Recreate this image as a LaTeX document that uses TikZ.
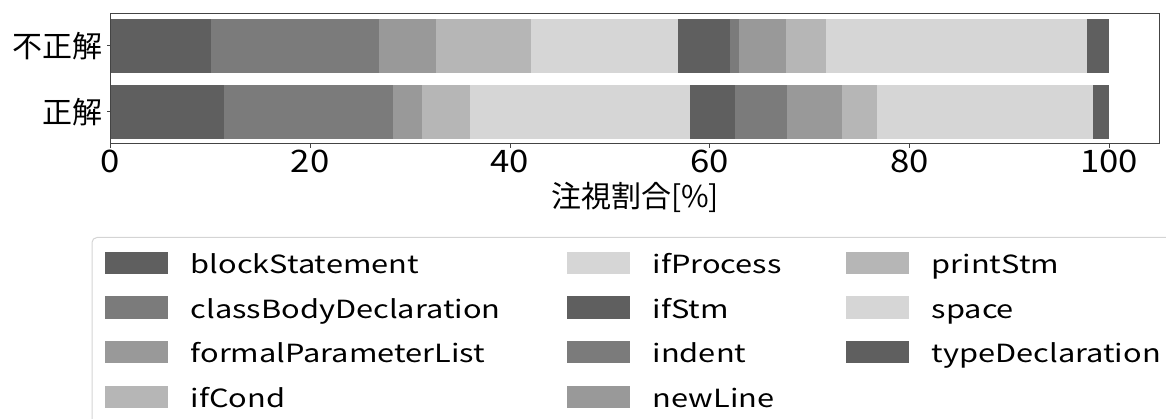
\documentclass[tikz,border=0pt]{standalone}
\usepackage{fontspec}
\setmainfont{Noto Sans CJK JP}
\newfontfamily\legfont[FakeStretch=1.23]{Noto Sans CJK JP}
\newfontfamily\digfont[FakeStretch=1.12]{Noto Sans CJK JP}
\definecolor{ca}{HTML}{5F5F5F}
\definecolor{cb}{HTML}{7B7B7B}
\definecolor{cc}{HTML}{999999}
\definecolor{cd}{HTML}{B6B6B6}
\definecolor{ce}{HTML}{D6D6D6}
\definecolor{legedge}{HTML}{D4D4D4}
\definecolor{framec}{HTML}{444444}
\tikzset{
  frame/.style={draw=framec, line width=1pt},
  tickmark/.style={draw=framec, line width=0.8pt},
  ticklab/.style={font=\digfont\fontsize{31}{31}\selectfont, inner sep=0pt, anchor=base},
  catlab/.style={font=\fontsize{30}{30}\selectfont, inner sep=0pt, anchor=east},
  swatch/.style={minimum width=63pt, minimum height=22pt, inner sep=0pt, draw=none},
  legtext/.style={font=\legfont\fontsize{25}{25}\selectfont, inner sep=0pt, anchor=base west},
}
\begin{document}
\begin{tikzpicture}[x=1pt,y=-1pt]
\useasboundingbox (0,0) rectangle (1166,419);
% legend box (clipped by picture edge)
\begin{scope}
\clip (0,0) rectangle (1166,419);
\draw[draw=legedge, line width=1pt, rounded corners=5pt, fill=white] (92,237.5) rectangle (1200,460);
\end{scope}
% bars
\foreach \a/\b/\c in {0/10.07/ca, 10.07/26.9/cb, 26.9/32.6/cc, 32.6/42.1/cd, 42.1/56.8/ce, 56.8/62.0/ca, 62.0/62.9/cb, 62.9/67.6/cc, 67.6/71.6/cd, 71.6/97.8/ce, 97.8/100/ca}
  \fill[\c] ({110.3+9.99*\a},19) rectangle ({110.3+9.99*\b},72.7);
\foreach \a/\b/\c in {0/11.4/ca, 11.4/28.3/cb, 28.3/31.2/cc, 31.2/36.0/cd, 36.0/58.0/ce, 58.0/62.5/ca, 62.5/67.7/cb, 67.7/73.2/cc, 73.2/76.7/cd, 76.7/98.4/ce, 98.4/100/ca}
  \fill[\c] ({110.3+9.99*\a},85) rectangle ({110.3+9.99*\b},138.7);
% frame
\draw[frame] (110.3,14) rectangle (1159,144);
% x ticks
\foreach \v in {0,20,40,60,80,100} {
  \draw[tickmark] ({110.3+9.99*\v},144) -- ++(0,3.8);
  \node[ticklab] (t\v) at ({110.3+9.99*\v},173) {\v};
}
% y ticks
\draw[tickmark] (110.3,45.9) -- ++(-3.8,0);
\draw[tickmark] (110.3,111.9) -- ++(-3.8,0);
\node[catlab] (fuseikai) at (102.5,46.5) {不正解};
\node[catlab] (seikai) at (102.5,112.2) {正解};
\node[font=\fontsize{30}{30}\selectfont, inner sep=0pt] (xlabel) at (635,197) {注視割合[\%]};
% legend
\foreach \n/\txt/\c/\x/\y in {
  l1/blockStatement/ca/136.3/263,
  l2/classBodyDeclaration/cb/136.3/307.5,
  l3/formalParameterList/cc/136.3/352,
  l4/ifCond/cd/136.3/396.7,
  l5/ifProcess/ce/598.3/263,
  l6/ifStm/ca/598.3/307.5,
  l7/indent/cb/598.3/352,
  l8/newLine/cc/598.3/396.7,
  l9/printStm/cd/877.3/263,
  l10/space/ce/877.3/307.5,
  l11/typeDeclaration/ca/877.3/352} {
  \node[swatch, fill=\c] (s\n) at (\x,\y) {};
  \node[legtext] (\n) at ([xshift=22.5pt, yshift=-10.5pt]s\n.east) {\txt};
}
\end{tikzpicture}
\end{document}
